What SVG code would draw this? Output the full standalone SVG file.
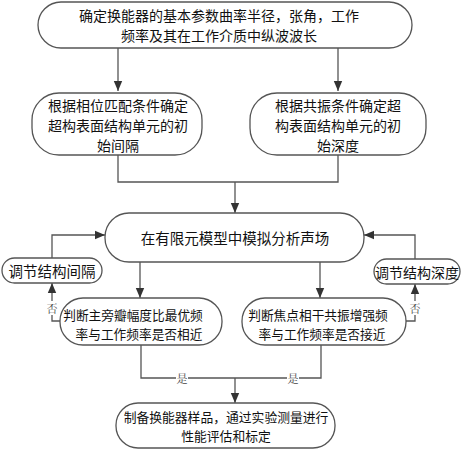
<svg xmlns="http://www.w3.org/2000/svg" width="462" height="450" viewBox="0 0 462 450">
<style>
.box{fill:#fff;stroke:#555;stroke-width:1.3}
.t{font-family:"Noto Sans CJK SC","Microsoft YaHei",sans-serif;fill:#111;text-anchor:middle;dominant-baseline:central}
.c{fill:none;stroke:#555;stroke-width:1.3}
.lb{font-family:"Noto Serif CJK SC","Noto Sans CJK SC",serif;fill:#444;font-size:11px;text-anchor:middle;dominant-baseline:central}
</style>
<defs>
<marker id="ah" markerUnits="userSpaceOnUse" markerWidth="10" markerHeight="10" viewBox="0 0 10 10" refX="10" refY="5" orient="auto">
<path d="M0,0.8 L10,5 L0,9.2 Z" fill="#333"/>
</marker>
</defs>
<rect width="462" height="450" fill="#fff"/>
<g id="connectors">
<path class="c" d="M118 48 V91" marker-end="url(#ah)"/>
<path class="c" d="M338 48 V91" marker-end="url(#ah)"/>
<path class="c" d="M118 155 V182 H338 V155"/>
<path class="c" d="M235 182 V213" marker-end="url(#ah)"/>
<path class="c" d="M140 262 V298" marker-end="url(#ah)"/>
<path class="c" d="M320 262 V298" marker-end="url(#ah)"/>
<path class="c" d="M60 321 H52 V283" marker-end="url(#ah)"/>
<path class="c" d="M52 258 V235 H105" marker-end="url(#ah)"/>
<path class="c" d="M406 321 H415 V284" marker-end="url(#ah)"/>
<path class="c" d="M415 259 V235 H364" marker-end="url(#ah)"/>
<path class="c" d="M141 345 V378 H321 V345"/>
<path class="c" d="M235 378 V403" marker-end="url(#ah)"/>
<rect x="46" y="301" width="12" height="14" fill="#fff"/>
<text class="lb" x="52" y="308">否</text>
<rect x="409" y="301" width="12" height="14" fill="#fff"/>
<text class="lb" x="415" y="308">否</text>
<rect x="176" y="371" width="12" height="14" fill="#fff"/>
<text class="lb" x="182" y="378">是</text>
<rect x="287" y="371" width="12" height="14" fill="#fff"/>
<text class="lb" x="293" y="378">是</text>
</g>
<g id="n1">
<rect class="box" x="38" y="2" width="374" height="46" rx="23"/>
<text class="t" x="219" y="15" font-size="14">确定换能器的基本参数曲率半径，张角，工作</text>
<text class="t" x="219" y="35" font-size="14">频率及其在工作介质中纵波波长</text>
</g>
<g id="n2">
<rect class="box" x="32" y="93" width="170" height="62" rx="27"/>
<text class="t" x="118" y="105" font-size="14">根据相位匹配条件确定</text>
<text class="t" x="118" y="125" font-size="14">超构表面结构单元的初</text>
<text class="t" x="118" y="145" font-size="14">始间隔</text>
</g>
<g id="n3">
<rect class="box" x="250" y="93" width="176" height="62" rx="27"/>
<text class="t" x="338" y="105" font-size="14">根据共振条件确定超</text>
<text class="t" x="338" y="125" font-size="14">构表面结构单元的初</text>
<text class="t" x="338" y="145" font-size="14">始深度</text>
</g>
<g id="n4">
<rect class="box" x="105" y="213" width="259" height="49" rx="24"/>
<text class="t" x="235" y="237" font-size="14.5">在有限元模型中模拟分析声场</text>
</g>
<g id="n5">
<rect class="box" x="2" y="258" width="100" height="25" rx="12.5"/>
<text class="t" x="52" y="270.5" font-size="14.5">调节结构间隔</text>
</g>
<g id="n6">
<rect class="box" x="374" y="259" width="86" height="25" rx="12.5"/>
<text class="t" x="417" y="271.5" font-size="14">调节结构深度</text>
</g>
<g id="n7">
<rect class="box" x="60" y="298" width="162" height="47" rx="23"/>
<text class="t" x="133" y="314" font-size="12.7">判断主旁瓣幅度比最优频</text>
<text class="t" x="139" y="333" font-size="12.7">率与工作频率是否相近</text>
</g>
<g id="n8">
<rect class="box" x="242" y="298" width="164" height="47" rx="23"/>
<text class="t" x="318" y="314" font-size="12.7">判断焦点相干共振增强频</text>
<text class="t" x="322" y="333" font-size="12.7">率与工作频率是否接近</text>
</g>
<g id="n9">
<rect class="box" x="116" y="403" width="219" height="45" rx="22"/>
<text class="t" x="226" y="416.5" font-size="12.8">制备换能器样品，通过实验测量进行</text>
<text class="t" x="226" y="435.5" font-size="12.8">性能评估和标定</text>
</g>
</svg>
